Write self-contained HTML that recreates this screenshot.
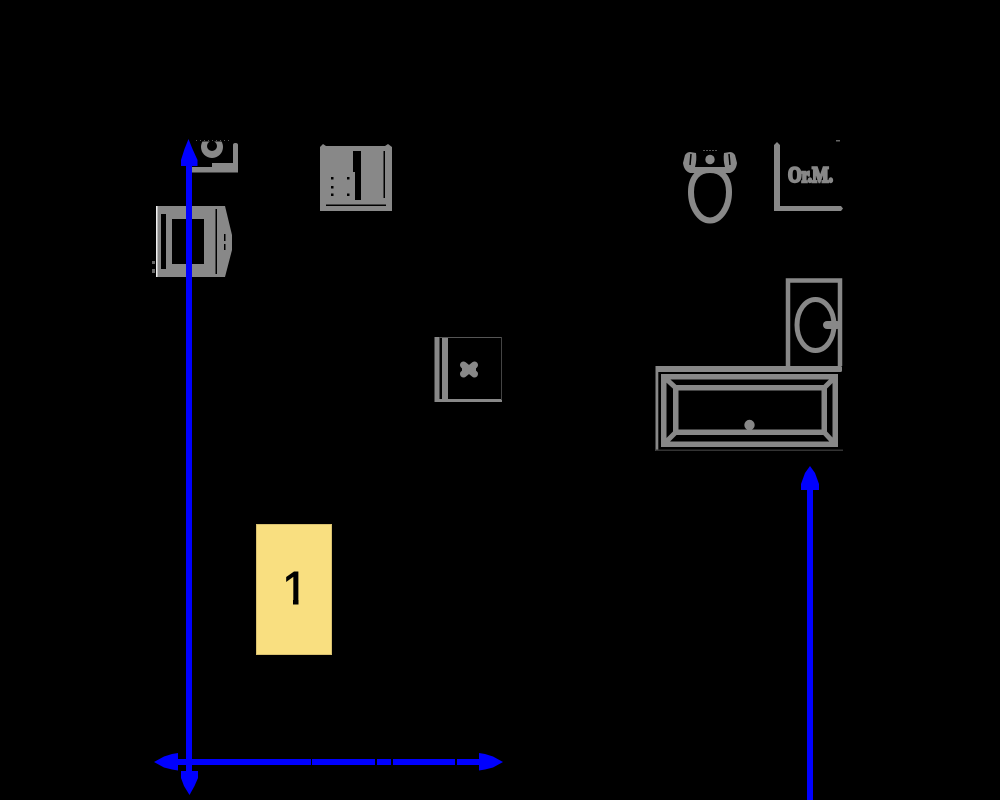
<!DOCTYPE html>
<html>
<head>
<meta charset="utf-8">
<style>
html,body{margin:0;padding:0;background:#000;width:1000px;height:800px;overflow:hidden}
svg{display:block}
</style>
</head>
<body>
<svg xmlns="http://www.w3.org/2000/svg" width="1000" height="800" viewBox="0 0 1000 800">
<rect width="1000" height="800" fill="#000"/>

<!-- top-left appliance -->
<path d="M233 145Q233 143 235.500 143Q238 143 238 145V172.500H191.500V167H212V163H233Z" fill="#888"/>
<circle cx="212" cy="147" r="11" fill="#888"/>
<circle cx="212" cy="146" r="5" fill="#000"/>
<rect x="198" y="130" width="28" height="11.500" fill="#000"/>
<line x1="196" y1="140.500" x2="232" y2="140.500" stroke="#555" stroke-width="1" stroke-dasharray="1 3"/>

<!-- left appliance -->
<path d="M156 206H225L232 235V250L225 277H156Z" fill="#888"/>
<rect x="156" y="206" width="1.500" height="71" fill="#eee"/>
<rect x="161" y="214" width="5" height="55" fill="#000"/>
<rect x="172" y="219" width="32" height="45" fill="#000"/>
<rect x="215.500" y="209" width="1.500" height="65" fill="#000"/>
<rect x="224" y="234" width="1.500" height="7" fill="#000"/>
<rect x="224" y="244" width="1.500" height="6" fill="#000"/>
<rect x="152" y="261" width="3" height="3" fill="#666"/>
<rect x="152" y="269" width="3" height="4" fill="#666"/>

<!-- top-center cabinet -->
<path d="M320 147L323 144L326 146H385L388 144L392 147V211H320Z" fill="#888"/>
<rect x="353" y="151" width="8" height="21" fill="#000"/>
<rect x="355" y="171" width="6" height="29" fill="#000"/>
<rect x="383.500" y="151" width="1.500" height="47" fill="#000"/>
<rect x="326" y="204.500" width="60" height="1.500" fill="#000"/>
<g fill="#000">
<rect x="331" y="177" width="2.500" height="2.500"/>
<rect x="347" y="177" width="2.500" height="2.500"/>
<rect x="331" y="186" width="2.500" height="2.500"/>
<rect x="331" y="193.500" width="2.500" height="2.500"/>
<rect x="347" y="193.500" width="2.500" height="2.500"/>
</g>

<!-- toilet -->
<path d="M710 170C698 170 691 178 691 192C691 208 700 220.500 710 220.500C720 220.500 729 208 729 192C729 178 722 170 710 170Z" fill="none" stroke="#888" stroke-width="6"/>
<rect x="690" y="167" width="40" height="6" fill="#888"/>
<path d="M685 155Q687 152 690 152L696 153Q697 160 695 167L694 173H690Q684 171 683 163Z" fill="#888"/>
<path d="M735 155Q733 152 730 152L724 153Q723 160 725 167L726 173H730Q736 171 737 163Z" fill="#888"/>
<path d="M691 154L690 165M729 154L730 165" stroke="#000" stroke-width="1.500"/>
<circle cx="710" cy="159.500" r="4.700" fill="#888"/>
<line x1="703" y1="150.500" x2="717" y2="150.500" stroke="#555" stroke-dasharray="2 1"/>

<!-- Or.M. cabinet -->
<path d="M774 145L777 142L780 145V206H841L843 208.500L841 211H774Z" fill="#888"/>
<rect x="836" y="140" width="4" height="1.500" fill="#666"/>
<text transform="translate(810.500 182) scale(1 1.250)" text-anchor="middle" font-family="'Liberation Serif',serif" font-size="17.500" font-weight="bold" fill="#888" stroke="#888" stroke-width="1.900">Or.M.</text>

<!-- sink -->
<g fill="none" stroke="#888">
<path d="M788 366V280.500H840V366" stroke-width="4.500"/>
<ellipse cx="815.500" cy="325" rx="18.500" ry="25.500" stroke-width="5"/>
</g>
<rect x="823" y="321" width="18" height="8" rx="4" fill="#888"/>

<!-- bath -->
<rect x="656" y="366" width="186" height="6" rx="1.500" fill="#888"/>
<rect x="655.500" y="366" width="2.800" height="85" fill="#888"/>
<rect x="656" y="449.500" width="187" height="1.500" fill="#333"/>
<rect x="663.750" y="376.750" width="171.500" height="67.500" fill="none" stroke="#888" stroke-width="5.500"/>
<rect x="675.750" y="387.750" width="148.500" height="44.500" fill="none" stroke="#888" stroke-width="5.500"/>
<g stroke="#888" stroke-width="5">
<line x1="664" y1="377" x2="676" y2="388"/>
<line x1="835" y1="377" x2="824" y2="388"/>
<line x1="664" y1="444" x2="676" y2="432"/>
<line x1="835" y1="444" x2="824" y2="432"/>
</g>
<circle cx="749.500" cy="425" r="5.200" fill="#888"/>

<!-- small cabinet -->
<rect x="434.500" y="337" width="5" height="65" fill="#888"/>
<rect x="442" y="337" width="6" height="65" fill="#888"/>
<rect x="434.500" y="399" width="67.500" height="3" fill="#888"/>
<rect x="439" y="337" width="62" height="1" fill="#555"/>
<rect x="501" y="337" width="1" height="63" fill="#444"/>
<g stroke="#888" stroke-width="7" stroke-linecap="round">
<line x1="463.500" y1="365" x2="474.500" y2="374"/>
<line x1="474.500" y1="365" x2="463.500" y2="374"/>
</g>
<rect x="462" y="366" width="14" height="7" fill="#888"/>

<!-- yellow box -->
<rect x="256.500" y="524.500" width="75" height="130" fill="#F9DF80" stroke="#d8c070" stroke-width="1"/>
<text x="295" y="604" text-anchor="middle" font-family="'Liberation Sans',sans-serif" font-size="46" fill="#000" stroke="#000" stroke-width="1">1</text>
<rect x="275" y="598.500" width="18" height="8" fill="#F9DF80"/>
<rect x="298.500" y="598.500" width="12" height="8" fill="#F9DF80"/>

<!-- blue dimension lines -->
<g fill="#0000ff">
<rect x="186" y="160" width="6" height="615"/>
<path d="M188.500 139L184.500 149L181 160V166H197.500V160L192.500 149Z"/>
<path d="M189.500 795L184 786L181 778V771H198V778L194.500 786Z"/>
<rect x="175" y="759" width="136" height="6"/>
<rect x="312" y="759" width="63" height="6"/>
<rect x="377" y="759" width="14" height="6"/>
<rect x="393" y="759" width="62" height="6"/>
<rect x="457" y="759" width="25" height="6"/>
<path d="M154 762L164 756.500L172 754L178 753V770.500L172 769.500L164 767.500Z"/>
<path d="M503 762L493 756.500L485 754L479 753V770.500L485 769.500L493 767.500Z"/>
<rect x="807" y="485" width="6" height="315"/>
<path d="M810 466L805 473L801 484V490H819V484L815 473Z"/>
</g>
</svg>
</body>
</html>
